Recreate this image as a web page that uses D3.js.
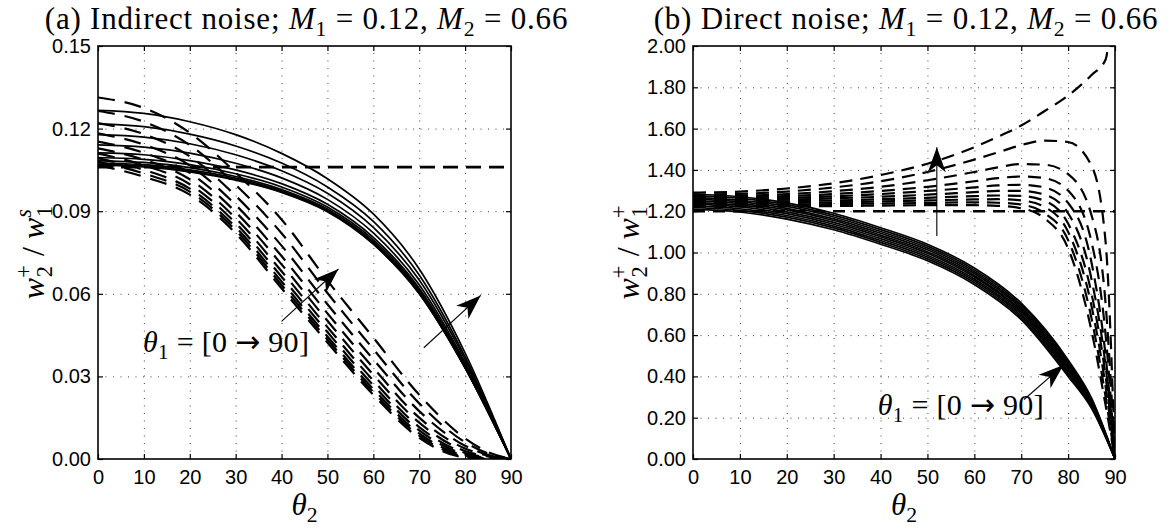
<!DOCTYPE html>
<html>
<head>
<meta charset="utf-8">
<script src="https://cdn.jsdelivr.net/npm/d3@7"></script>
<style>
body { margin: 0; background: #fff; }
text { white-space: pre; }
</style>
</head>
<body>
<script>
// theta_2 sample points
const thetaSolidL = [0, 10, 20, 30, 40, 50, 60, 70, 80, 90];
const thetaDashL = [0, 10, 20, 30, 40, 50, 60, 70, 80, 85, 90];
const thetaSolidR = [0, 10, 20, 30, 40, 50, 60, 70, 80, 85, 90];
const thetaDashR = [0, 10, 20, 30, 40, 50, 60, 65, 70, 75, 80, 85, 88, 90];

// (a) indirect noise, solid curves (theta_1 = 0 -> 90)
const leftSolid = [
  [0.1266, 0.1255, 0.1225, 0.1178, 0.1110, 0.1018, 0.0890, 0.0690, 0.0385, 0],
  [0.1217, 0.1207, 0.1180, 0.1137, 0.1075, 0.0988, 0.0863, 0.0668, 0.0371, 0],
  [0.1178, 0.1169, 0.1145, 0.1105, 0.1047, 0.0965, 0.0841, 0.0650, 0.0361, 0],
  [0.1141, 0.1133, 0.1111, 0.1074, 0.1021, 0.0943, 0.0821, 0.0633, 0.0350, 0],
  [0.1112, 0.1105, 0.1084, 0.1050, 0.1000, 0.0925, 0.0805, 0.0620, 0.0342, 0],
  [0.1095, 0.1088, 0.1069, 0.1036, 0.0988, 0.0915, 0.0796, 0.0613, 0.0338, 0],
  [0.1083, 0.1077, 0.1058, 0.1026, 0.0979, 0.0908, 0.0789, 0.0607, 0.0334, 0],
  [0.1075, 0.1069, 0.1050, 0.1020, 0.0974, 0.0903, 0.0784, 0.0604, 0.0332, 0],
  [0.1070, 0.1064, 0.1046, 0.1015, 0.0970, 0.0900, 0.0782, 0.0601, 0.0331, 0],
  [0.1067, 0.1061, 0.1043, 0.1013, 0.0968, 0.0898, 0.0780, 0.0600, 0.0330, 0]
];

// (a) dashed curves
const leftDashed = [
  [0.1313, 0.1275, 0.1185, 0.1040, 0.0870, 0.0648, 0.0441, 0.0233, 0.0075, 0.0025, 0],
  [0.1264, 0.1225, 0.1140, 0.0996, 0.0820, 0.0603, 0.0399, 0.0202, 0.0061, 0.0020, 0],
  [0.1220, 0.1180, 0.1099, 0.0956, 0.0775, 0.0562, 0.0362, 0.0174, 0.0048, 0.0015, 0],
  [0.1183, 0.1142, 0.1066, 0.0923, 0.0737, 0.0529, 0.0331, 0.0150, 0.0038, 0.0012, 0],
  [0.1153, 0.1112, 0.1039, 0.0897, 0.0707, 0.0502, 0.0306, 0.0132, 0.0029, 0.0009, 0],
  [0.1128, 0.1087, 0.1016, 0.0875, 0.0682, 0.0479, 0.0285, 0.0116, 0.0022, 0.0006, 0],
  [0.1109, 0.1067, 0.0998, 0.0857, 0.0662, 0.0461, 0.0268, 0.0104, 0.0017, 0.0004, 0],
  [0.1092, 0.1050, 0.0982, 0.0842, 0.0645, 0.0445, 0.0254, 0.0093, 0.0012, 0.0002, 0],
  [0.1079, 0.1037, 0.0971, 0.0831, 0.0632, 0.0434, 0.0243, 0.0085, 0.0008, 0.0001, 0],
  [0.1067, 0.1025, 0.0960, 0.0820, 0.0620, 0.0423, 0.0233, 0.0077, 0.0005, 0, 0]
];
const leftRef = 0.106;

// (b) direct noise, solid curves
const rightSolid = [
  [1.210, 1.196, 1.162, 1.110, 1.040, 0.960, 0.845, 0.675, 0.400, 0.245, 0],
  [1.218, 1.204, 1.171, 1.119, 1.049, 0.969, 0.854, 0.684, 0.409, 0.251, 0],
  [1.226, 1.212, 1.179, 1.128, 1.058, 0.978, 0.863, 0.693, 0.418, 0.256, 0],
  [1.234, 1.221, 1.188, 1.137, 1.067, 0.987, 0.872, 0.702, 0.427, 0.262, 0],
  [1.242, 1.229, 1.197, 1.146, 1.076, 0.996, 0.881, 0.711, 0.436, 0.267, 0],
  [1.250, 1.237, 1.206, 1.155, 1.084, 1.004, 0.889, 0.719, 0.444, 0.273, 0],
  [1.258, 1.245, 1.214, 1.163, 1.093, 1.013, 0.898, 0.728, 0.453, 0.278, 0],
  [1.266, 1.253, 1.223, 1.172, 1.102, 1.022, 0.907, 0.737, 0.462, 0.284, 0],
  [1.274, 1.262, 1.232, 1.181, 1.111, 1.031, 0.916, 0.746, 0.471, 0.289, 0],
  [1.282, 1.270, 1.240, 1.190, 1.120, 1.040, 0.925, 0.755, 0.480, 0.295, 0]
];

// (b) dashed curves
const rightDashed = [
  [1.290, 1.295, 1.310, 1.335, 1.375, 1.430, 1.510, 1.560, 1.615, 1.685, 1.760, 1.860, 1.935, 2.500],
  [1.280, 1.284, 1.295, 1.315, 1.345, 1.390, 1.450, 1.485, 1.520, 1.542, 1.535, 1.420, 1.050, 0],
  [1.272, 1.275, 1.283, 1.297, 1.318, 1.350, 1.390, 1.412, 1.428, 1.425, 1.380, 1.180, 0.750, 0],
  [1.265, 1.267, 1.273, 1.283, 1.298, 1.318, 1.345, 1.360, 1.368, 1.360, 1.300, 1.050, 0.600, 0],
  [1.258, 1.260, 1.264, 1.272, 1.283, 1.298, 1.315, 1.325, 1.328, 1.315, 1.240, 0.950, 0.500, 0],
  [1.251, 1.253, 1.256, 1.262, 1.270, 1.280, 1.292, 1.298, 1.298, 1.280, 1.190, 0.870, 0.450, 0],
  [1.244, 1.245, 1.248, 1.252, 1.258, 1.265, 1.273, 1.276, 1.274, 1.250, 1.140, 0.800, 0.400, 0],
  [1.237, 1.238, 1.240, 1.243, 1.247, 1.252, 1.257, 1.258, 1.252, 1.220, 1.100, 0.740, 0.350, 0],
  [1.230, 1.231, 1.232, 1.234, 1.237, 1.240, 1.243, 1.241, 1.232, 1.190, 1.060, 0.680, 0.300, 0],
  [1.222, 1.223, 1.224, 1.225, 1.227, 1.229, 1.229, 1.226, 1.214, 1.165, 1.020, 0.620, 0.260, 0]
];
const rightRef = 1.20;

const xTicks = [0, 10, 20, 30, 40, 50, 60, 70, 80, 90];
const leftYTicks = [0, 0.03, 0.06, 0.09, 0.12, 0.15];
const rightYTicks = [0, 0.2, 0.4, 0.6, 0.8, 1.0, 1.2, 1.4, 1.6, 1.8, 2.0];

// annotation arrows [from, to] in data units
const leftArrows = [[[40, 0.050], [52.4, 0.069]], [[71, 0.0404], [83.4, 0.0594]]];
const rightArrows = [[[52, 1.08], [52, 1.51]], [[70.6, 0.288], [79, 0.455]]];
const leftNoteAt = [9.8, 0.039];
const rightNoteAt = [39.4, 0.213];

const width = 1172, height = 530;
const plotTop = 46, plotBottom = 459;
const serif = "'Liberation Serif', 'DejaVu Serif', serif";
const sans = "'Liberation Sans', Arial, Helvetica, sans-serif";

const svg = d3.select("body").append("svg")
    .attr("width", width)
    .attr("height", height);

// text with italic / sub / sup pieces
function rich(t, parts, size) {
  let cur = 0;
  parts.forEach(p => {
    const off = p.sub ? 0.24 * size : p.sup ? -0.4 * size : 0;
    const ts = t.append("tspan").attr("dy", off - cur).text(p.t);
    cur = off;
    if (p.it) ts.style("font-style", "italic");
    if (p.sub || p.sup) ts.style("font-size", (size * 0.7) + "px");
    if (p.font) ts.style("font-family", p.font);
    if (p.dx) ts.attr("dx", p.dx);
  });
  return t;
}

function arrow(g, x, y, a) {
  const p0 = [x(a[0][0]), y(a[0][1])], p1 = [x(a[1][0]), y(a[1][1])];
  g.append("line")
      .attr("x1", p0[0]).attr("y1", p0[1])
      .attr("x2", p1[0]).attr("y2", p1[1])
      .attr("stroke", "#000")
      .attr("stroke-width", 1.1);
  const ang = Math.atan2(p1[1] - p0[1], p1[0] - p0[0]) * 180 / Math.PI;
  g.append("path")
      .attr("d", "M0,0L-25,-9L-18,0L-25,9Z")
      .attr("transform", `translate(${p1[0]},${p1[1]}) rotate(${ang})`)
      .attr("fill", "#000");
}

const panels = [
  {x0: 98, x1: 511, ymax: 0.15, yTicks: leftYTicks, solid: leftSolid, solidX: thetaSolidL,
   dashed: leftDashed, dashedX: thetaDashL, ref: leftRef, arrows: leftArrows, note: leftNoteAt,
   title: "(a) Indirect noise; ", sup: "s", supIt: true, dash: "17,10", refDash: "15,8"},
  {x0: 693, x1: 1115, ymax: 2.0, yTicks: rightYTicks, solid: rightSolid, solidX: thetaSolidR,
   dashed: rightDashed, dashedX: thetaDashR, ref: rightRef, arrows: rightArrows, note: rightNoteAt,
   title: "(b) Direct noise; ", sup: "+", supIt: false, dash: "13,8", refDash: "12,8"}
];

panels.forEach((p, i) => {
  const x = d3.scaleLinear().domain([0, 90]).range([p.x0, p.x1]);
  const y = d3.scaleLinear().domain([0, p.ymax]).range([plotBottom, plotTop]);
  const g = svg.append("g");

  g.append("clipPath").attr("id", "clip" + i)
    .append("rect")
      .attr("x", p.x0).attr("y", plotTop)
      .attr("width", p.x1 - p.x0).attr("height", plotBottom - plotTop);

  // dotted grid
  g.append("g")
      .attr("transform", `translate(0,${plotBottom})`)
      .call(d3.axisBottom(x).tickValues(xTicks.slice(1, -1)).tickSize(-(plotBottom - plotTop)).tickFormat(""))
      .call(a => a.select(".domain").remove())
      .selectAll("line")
      .attr("stroke", "#444").attr("stroke-dasharray", "1,6.5");
  g.append("g")
      .attr("transform", `translate(${p.x0},0)`)
      .call(d3.axisLeft(y).tickValues(p.yTicks.slice(1, -1)).tickSize(-(p.x1 - p.x0)).tickFormat(""))
      .call(a => a.select(".domain").remove())
      .selectAll("line")
      .attr("stroke", "#444").attr("stroke-dasharray", "1,6.5");

  const plot = g.append("g").attr("clip-path", `url(#clip${i})`);

  const lineS = d3.line().x((d, k) => x(p.solidX[k])).y(d => y(d)).curve(d3.curveMonotoneX);
  const lineD = d3.line().x((d, k) => x(p.dashedX[k])).y(d => y(d)).curve(d3.curveMonotoneX);

  plot.selectAll(".solid")
    .data(p.solid)
    .join("path")
      .attr("class", "solid")
      .attr("d", lineS)
      .attr("fill", "none")
      .attr("stroke", "#000")
      .attr("stroke-width", 1.7);

  plot.selectAll(".dashed")
    .data(p.dashed)
    .join("path")
      .attr("class", "dashed")
      .attr("d", lineD)
      .attr("fill", "none")
      .attr("stroke", "#000")
      .attr("stroke-width", 2.2)
      .attr("stroke-dasharray", p.dash);

  plot.append("line")
      .attr("x1", x(0)).attr("x2", x(90))
      .attr("y1", y(p.ref)).attr("y2", y(p.ref))
      .attr("stroke", "#000")
      .attr("stroke-width", 2.6)
      .attr("stroke-dasharray", p.refDash);

  // frame
  g.append("rect")
      .attr("x", p.x0).attr("y", plotTop)
      .attr("width", p.x1 - p.x0).attr("height", plotBottom - plotTop)
      .attr("fill", "none").attr("stroke", "#000").attr("stroke-width", 1.6);

  // axes with inward ticks
  const ax = g.append("g")
      .attr("transform", `translate(0,${plotBottom})`)
      .call(d3.axisBottom(x).tickValues(xTicks).tickSize(-5).tickPadding(11).tickFormat(d3.format("d")));
  const ay = g.append("g")
      .attr("transform", `translate(${p.x0},0)`)
      .call(d3.axisLeft(y).tickValues(p.yTicks).tickSize(-5).tickPadding(7).tickFormat(d3.format(".2f")));
  g.append("g").attr("transform", `translate(0,${plotTop})`)
      .call(d3.axisTop(x).tickValues(xTicks).tickSize(-5).tickFormat(""));
  g.append("g").attr("transform", `translate(${p.x1},0)`)
      .call(d3.axisRight(y).tickValues(p.yTicks).tickSize(-5).tickFormat(""));
  g.selectAll(".domain").remove();
  g.selectAll(".tick line").filter(function() { return !this.getAttribute("stroke-dasharray"); })
      .attr("stroke-width", 1.2);
  [ax, ay].forEach(a => a.attr("font-size", 20).attr("font-family", sans)
      .selectAll("text").attr("fill", "#000"));

  // arrows + note
  p.arrows.forEach(a => arrow(g, x, y, a));
  rich(g.append("text")
      .attr("x", x(p.note[0])).attr("y", y(p.note[1]))
      .style("font-family", serif).style("font-size", "30px")
      .style("letter-spacing", "0.3px"),
    [{t: "θ", it: true}, {t: "1", sub: true}, {t: " = [0 "},
     {t: "→", font: "'DejaVu Sans', sans-serif"}, {t: " 90]"}], 30);

  // title
  rich(g.append("text")
      .attr("x", (p.x0 + p.x1) / 2 + 2).attr("y", 29)
      .attr("text-anchor", "middle")
      .style("font-family", serif).style("font-size", "31px")
      .style("letter-spacing", "0.8px"),
    [{t: p.title}, {t: "M", it: true}, {t: "1", sub: true}, {t: " = 0.12, "},
     {t: "M", it: true}, {t: "2", sub: true}, {t: " = 0.66"}], 31);

  // x label
  rich(g.append("text")
      .attr("x", (p.x0 + p.x1) / 2).attr("y", 515)
      .attr("text-anchor", "middle")
      .style("font-family", serif).style("font-size", "31px"),
    [{t: "θ", it: true}, {t: "2", sub: true}], 31);

  // y label
  rich(g.append("text")
      .attr("transform", `translate(${p.x0 - 54},${(plotTop + plotBottom) / 2}) rotate(-90)`)
      .attr("text-anchor", "middle")
      .style("font-family", serif).style("font-size", "32px"),
    [{t: "w", it: true}, {t: "+", sup: true}, {t: "2", sub: true, dx: -12},
     {t: " / ", dx: 2}, {t: "w", it: true}, {t: p.sup, sup: true, it: p.supIt},
     {t: "1", sub: true, dx: p.supIt ? -8 : -12}], 32);
});
</script>
</body>
</html>
